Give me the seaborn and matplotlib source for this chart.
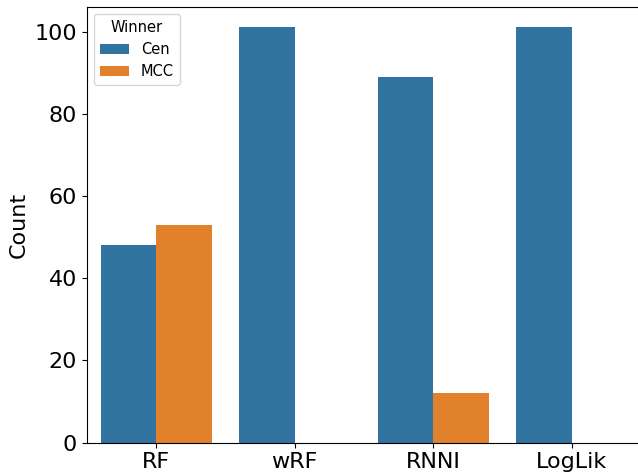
import pandas as pd
import matplotlib
matplotlib.use('Agg')
import matplotlib.pyplot as plt
import seaborn as sns

# counts of which method wins per metric
metrics = ['RF', 'wRF', 'RNNI', 'LogLik']
cen_counts = [48, 101, 89, 101]
mcc_counts = [53, 0, 12, 0]

df = pd.DataFrame({
    'Metric': metrics * 2,
    'Winner': ['Cen'] * len(metrics) + ['MCC'] * len(metrics),
    'Count': cen_counts + mcc_counts,
})

fig, ax = plt.subplots(figsize=(6.38, 4.74), dpi=100)
sns.barplot(x='Metric', y='Count', hue='Winner', data=df, ax=ax)

ax.set_xlabel('')
ax.set_ylabel('Count', fontsize=16)
ax.tick_params(axis='both', labelsize=16)
ax.legend(title='Winner', loc='upper left', fontsize=10.5, title_fontsize=10.5)
# right edge of the frame falls outside the image in the original
ax.spines['right'].set_visible(False)

fig.subplots_adjust(left=0.136, right=1.005, bottom=0.066, top=0.986)
fig.savefig('out.png', dpi=100)
plt.close()
